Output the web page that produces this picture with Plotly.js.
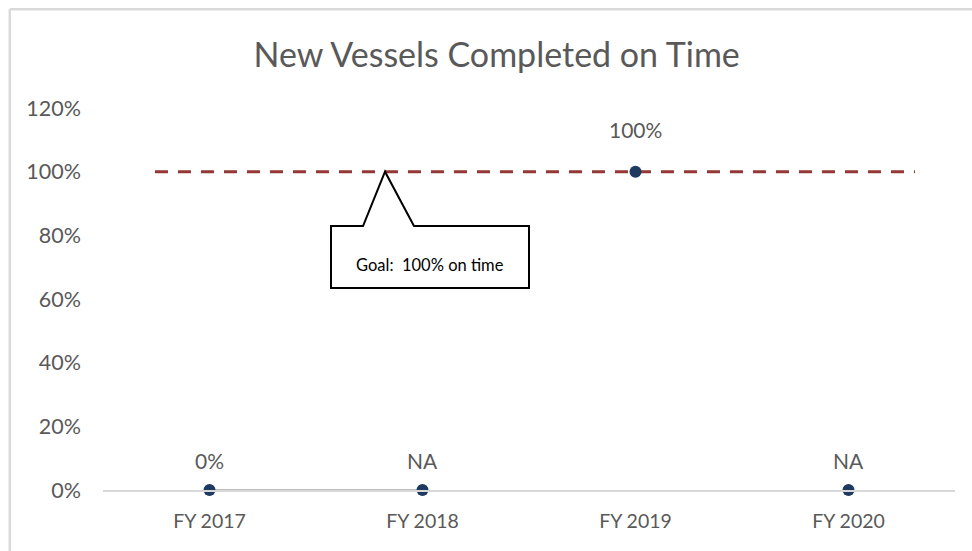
<!DOCTYPE html>
<html>
<head>
<meta charset="utf-8">
<script src="https://cdn.plot.ly/plotly-3.0.1.min.js"></script>
<style>html,body{margin:0;padding:0;background:#fff;}#chart{width:972px;height:551px;}</style>
</head>
<body>
<div id="chart"></div>
<script>
// Data
const categories = ["FY 2017", "FY 2018", "FY 2019", "FY 2020"];
const values = [0, 0, 1, 0];
const lineValues = [0, 0, null, 0];
const pointLabels = ["0%", "NA", "100%", "NA"];
const goalValue = [1.0];
const goalText = "Goal:  100% on time";
const yTickVals = [0, 0.2, 0.4, 0.6, 0.8, 1.0, 1.2];
const yTickText = ["0%", "20%", "40%", "60%", "80%", "100%", "120%"];

const FONT = "Lato, 'Open Sans', sans-serif";
const GRAY = "#595959";

const traces = [
  {
    x: categories, y: lineValues, type: "scatter", mode: "lines",
    line: {color: "#a6a6a6", width: 1.5}, connectgaps: false, cliponaxis: false,
    hoverinfo: "skip", showlegend: false
  },
  {
    x: categories, y: values, type: "scatter", mode: "markers", cliponaxis: false,
    marker: {color: "#1f3a60", size: 12},
    showlegend: false
  }
];

const labelShift = [30, 30, 42, 30];
const annotations = categories.map((c, i) => ({
  x: c, y: values[i], xref: "x", yref: "y", text: pointLabels[i],
  showarrow: false, yshift: labelShift[i],
  font: {family: FONT, size: 21, color: GRAY}
}));

// callout box geometry in paper fractions of plot area
const bx0 = 0.2676, bx1 = 0.5, by0 = 0.5288, by1 = 0.691;
const px0 = 0.3052, ptip = 0.331, px1 = 0.365;
annotations.push({
  x: (bx0 + bx1) / 2, y: (by0 + by1) / 2 - 0.02, xref: "paper", yref: "paper",
  text: goalText, showarrow: false,
  font: {family: FONT, size: 16.5, color: "#000"}
});

const shapes = [
  {
    type: "line", xref: "paper", yref: "y", x0: 0.061, x1: 0.953,
    y0: goalValue[0], y1: goalValue[0], layer: "below",
    line: {color: "#953735", width: 3, dash: "13px,10px"}
  },
  {
    type: "path", xref: "paper", yref: "paper", layer: "above",
    path: `M ${bx0} ${by1} L ${px0} ${by1} L ${ptip} ${goalValue[0] / 1.2} L ${px1} ${by1} L ${bx1} ${by1} L ${bx1} ${by0} L ${bx0} ${by0} Z`,
    fillcolor: "#ffffff", line: {color: "#000", width: 2}
  },
  // outer frame (top and left edges)
  {type: "line", xref: "paper", yref: "paper", x0: -0.1094, x1: 1.03, y0: 1.2585, y1: 1.2585,
   line: {color: "#d9d9d9", width: 2.5}},
  {type: "line", xref: "paper", yref: "paper", x0: -0.1094, x1: -0.1094, y0: 1.2585, y1: -0.17,
   line: {color: "#d9d9d9", width: 2.5}}
];

const layout = {
  width: 972, height: 551,
  margin: {l: 103, r: 17, t: 108, b: 61},
  paper_bgcolor: "#fff", plot_bgcolor: "#fff",
  title: {
    text: "New Vessels Completed on Time",
    x: 0.511, xanchor: "center", y: 0.9, yanchor: "middle",
    font: {family: FONT, size: 34, color: GRAY}
  },
  xaxis: {
    type: "category", showgrid: false, zeroline: false,
    showline: true, linecolor: "#d9d9d9", linewidth: 1.5,
    ticks: "", ticklabelstandoff: 13,
    tickfont: {family: FONT, size: 19.5, color: GRAY},
    range: [-0.5, 3.5], fixedrange: true
  },
  yaxis: {
    range: [0, 1.2], showgrid: false, zeroline: false, showline: false,
    tickvals: yTickVals, ticktext: yTickText, ticks: "",
    ticklabelstandoff: 21,
    tickfont: {family: FONT, size: 21.5, color: GRAY}, fixedrange: true
  },
  shapes: shapes,
  annotations: annotations
};

Plotly.newPlot("chart", traces, layout, {displayModeBar: false, staticPlot: true});
</script>
</body>
</html>
